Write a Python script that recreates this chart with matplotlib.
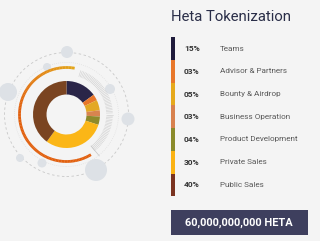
import numpy as np
import matplotlib
matplotlib.use("Agg")
import matplotlib.pyplot as plt
from matplotlib.patches import Circle, Rectangle

categories = ["Teams", "Advisor & Partners", "Bounty & Airdrop", "Business Operation",
              "Product Development", "Private Sales", "Public Sales"]
values = [15, 3, 5, 3, 4, 30, 40]
pct_labels = ["15%", "03%", "05%", "03%", "04%", "30%", "40%"]
colors = ["#2a2548", "#e8772a", "#e3a824", "#d8844f", "#8f8a2a", "#fbb617", "#7a4421"]
bar_colors = ["#1f1b3b", "#e8772a", "#e6a91c", "#d8814e", "#8a8a2a", "#fbb314", "#7a3320"]
title = "Heta Tokenization"
total_label = "60,000,000,000 HETA"

W, H = 320, 241
fig = plt.figure(figsize=(W / 100, H / 100), dpi=100)
fig.patch.set_facecolor("#f4f4f4")
ax = fig.add_axes([0, 0, 1, 1])

def Y(y):
    return H - y

cx, cy = 66.5, 114.5

# donut
ax.pie(values, colors=colors, startangle=90, counterclock=False,
       center=(cx, Y(cy)), radius=33.5, frame=True,
       wedgeprops=dict(width=13.5, linewidth=0))
ax.set_xlim(0, W)
ax.set_ylim(0, H)
ax.set_aspect("equal")
ax.axis("off")

# background decorations
ax.add_patch(Circle((cx, Y(cy)), 62, fill=False, ec="#c8c8c8", lw=0.6, ls=(0, (3, 3)), zorder=0))
ax.add_patch(Circle((cx, Y(cy)), 52, fill=False, ec="#dadada", lw=0.5, ls=(0, (1, 2)), zorder=0))
bubbles = [(67, 52, 6), (47, 67, 4), (8, 92, 9), (110, 89, 5), (128, 119, 6.5),
           (20, 158, 4), (42, 163, 4.5), (96, 170, 11)]
for bx, by, br in bubbles:
    ax.add_patch(Circle((bx, Y(by)), br, color="#dde1e6", lw=0, zorder=0.5))

# orange gradient arc
angs = np.linspace(80, 301, 120)
c1 = np.array(matplotlib.colors.to_rgb("#e3a61a"))
c2 = np.array(matplotlib.colors.to_rgb("#e2600e"))
for i in range(len(angs) - 1):
    t = min(1, i / 50)
    col = c1 * (1 - t) + c2 * t
    a = np.radians([angs[i], angs[i + 1] + 0.3])
    ax.plot(cx + 47 * np.cos(a), Y(cy) + 47 * np.sin(a), color=col, lw=2.0,
            solid_capstyle="butt")

# hatched grey band
for a in np.radians(np.arange(-52, 74, 2.0)):
    ax.plot([cx + 40 * np.cos(a), cx + 46 * np.cos(a)],
            [Y(cy) + 40 * np.sin(a), Y(cy) + 46 * np.sin(a)], color="#cfcfcf", lw=0.4)
a = np.radians(-52)
ax.plot([cx + 40 * np.cos(a), cx + 50 * np.cos(a) + 2],
        [Y(cy) + 40 * np.sin(a), Y(cy) + 50 * np.sin(a) - 2], color="#c4c4c4", lw=0.5)

# right panel
font = "Roboto"
ax.text(171, Y(17), title, fontsize=10.7, color="#2a2e48", family=font,
        va="center", ha="left")

top, seg = 37.3, 22.7
ax.bar([172.8] * len(values), [seg] * len(values), width=3.6,
       bottom=[Y(top + seg * (i + 1)) for i in range(len(values))],
       color=bar_colors, linewidth=0)
for i, (p, c) in enumerate(zip(pct_labels, categories)):
    yy = Y(top + seg * (i + 0.5))
    ax.text(184, yy, p, fontsize=6.0, color="#333333", family=font,
            fontweight="bold", va="center", ha="left")
    ax.text(220.3, yy, c, fontsize=5.9, color="#5a5a5a", family=font,
            va="center", ha="left")

ax.add_patch(Rectangle((171, Y(235)), 136.5, 25, color="#3e3f5e", lw=0))
ax.text(239.2, Y(222.5), total_label, fontsize=7.9, color="white", family=font,
        fontweight="bold", va="center", ha="center")

fig.savefig("out.png", dpi=100, facecolor=fig.get_facecolor())
